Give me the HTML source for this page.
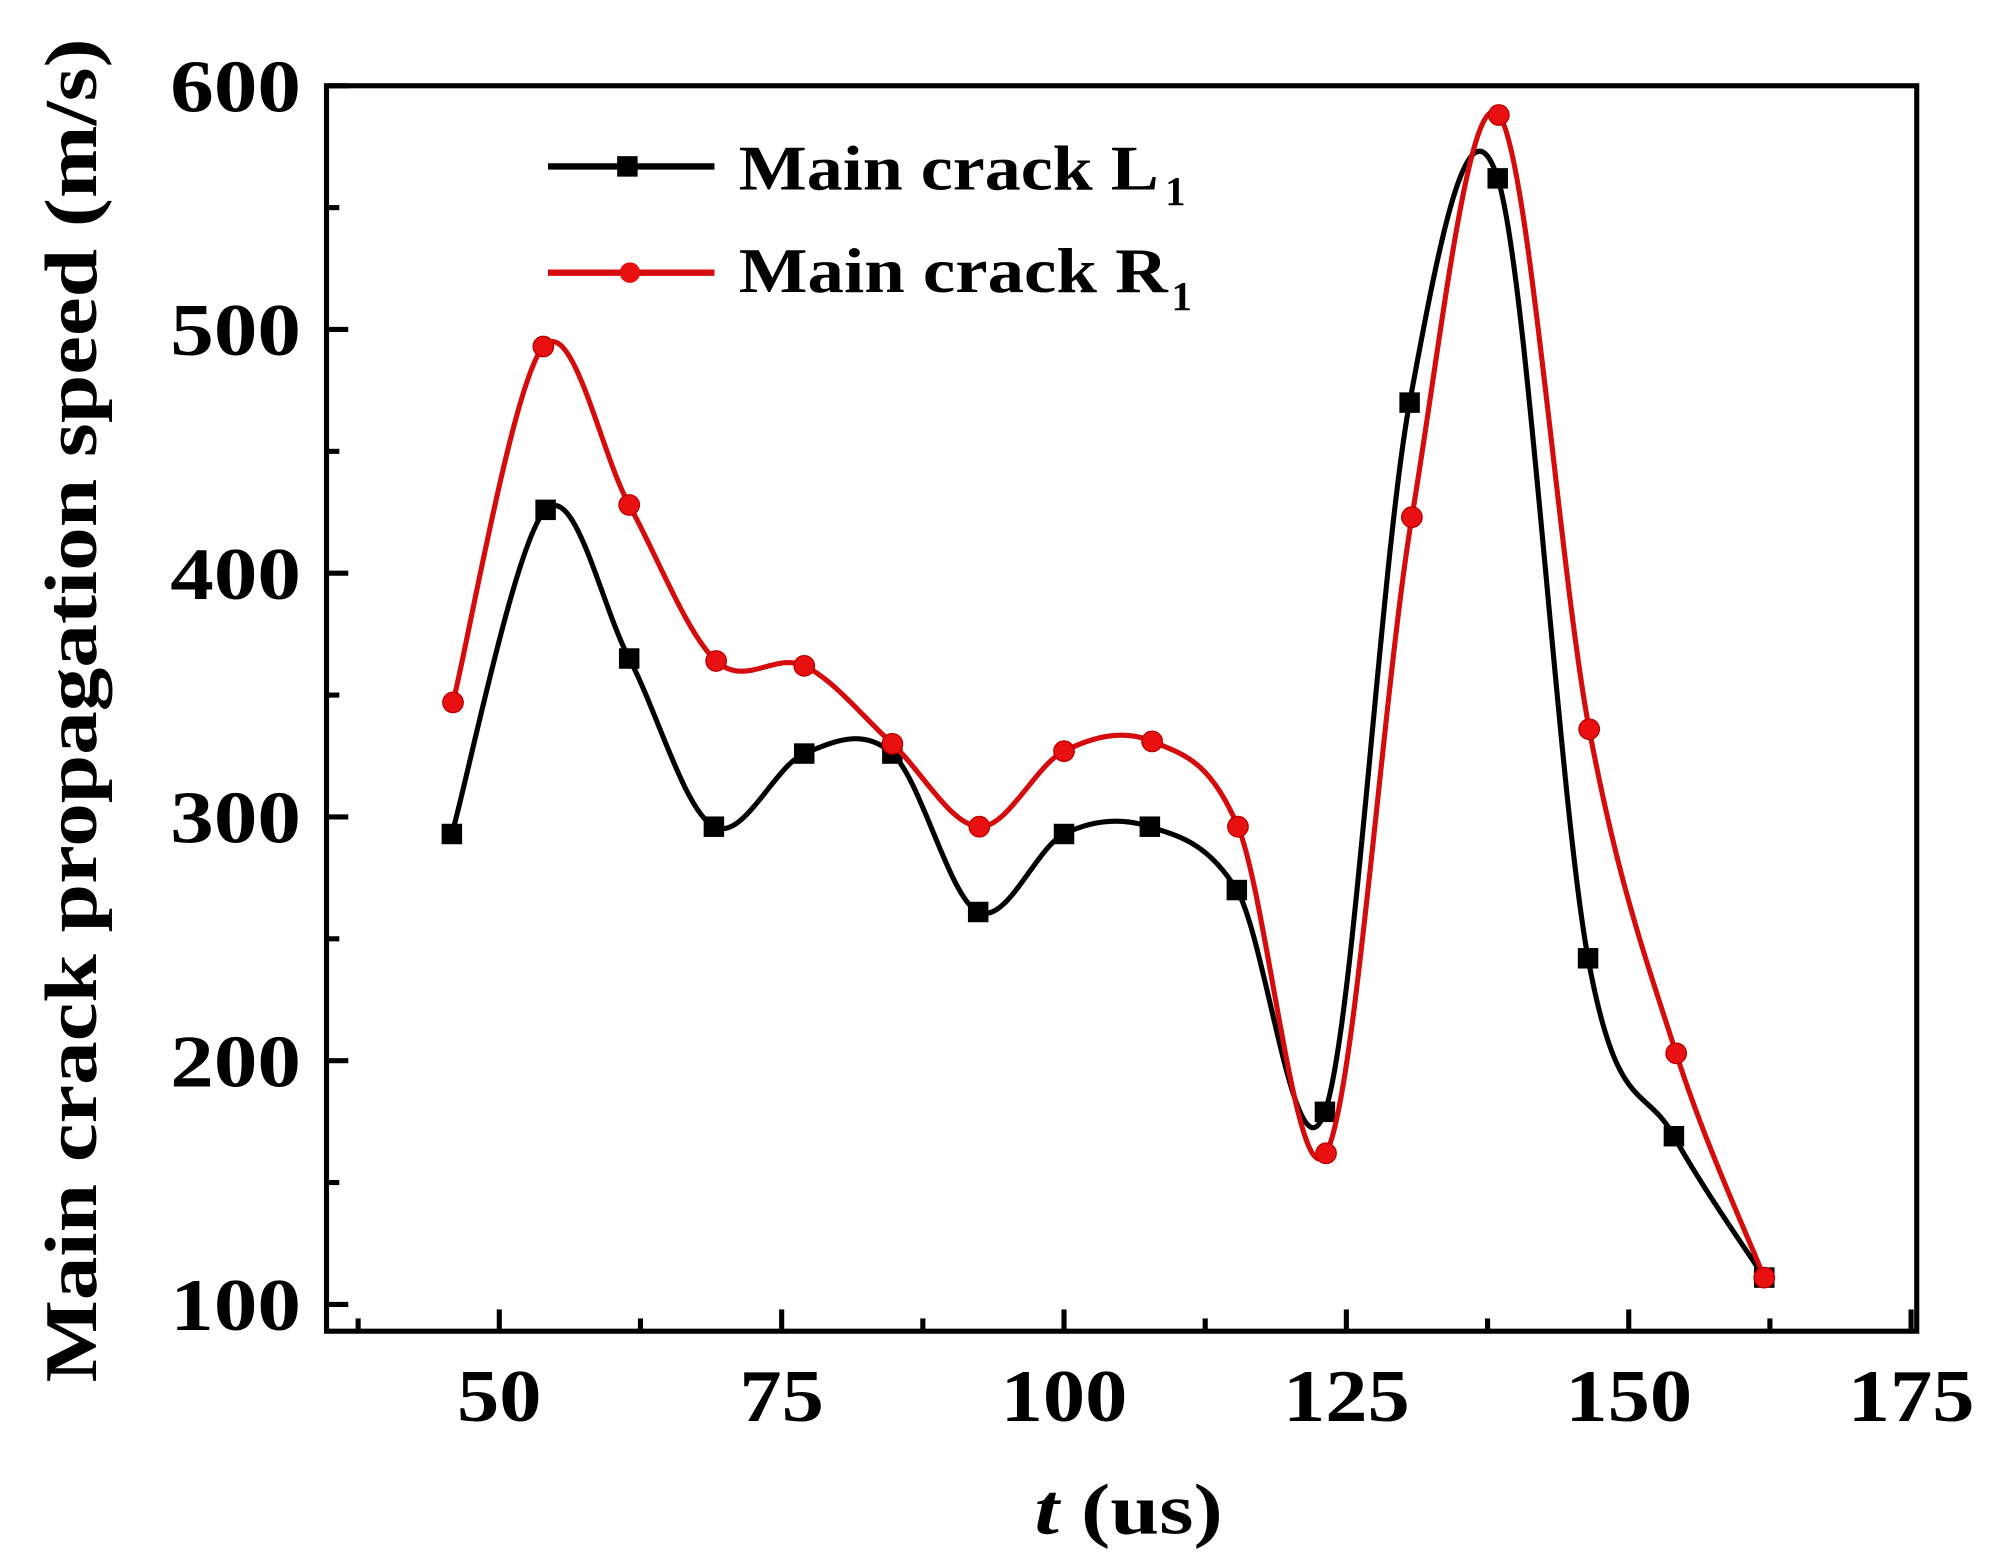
<!DOCTYPE html>
<html><head><meta charset="utf-8"><style>
html,body{margin:0;padding:0;background:#fff;}
svg{display:block;}
text{font-family:"Liberation Serif",serif;font-weight:bold;fill:#000;}
</style></head><body>
<svg id="chart" width="1991" height="1568" viewBox="0 0 1555 1225" preserveAspectRatio="none" xmlns="http://www.w3.org/2000/svg">
<g id="axes"></g>
<g id="series"></g>
<g id="legend">
  <line x1="428" y1="130" x2="558" y2="130" stroke="#000" stroke-width="5"/>
  <rect x="482" y="122" width="16" height="16" fill="#000"/>
  <text x="577" y="148" font-size="50" textLength="328" lengthAdjust="spacingAndGlyphs">Main crack L</text>
  <text x="910" y="160" font-size="32">1</text>
  <line x1="428" y1="213" x2="558" y2="213" stroke="#d40c0c" stroke-width="5"/>
  <circle cx="492" cy="213" r="8" fill="#e81010"/>
  <text x="577" y="228" font-size="50" textLength="335" lengthAdjust="spacingAndGlyphs">Main crack R</text>
  <text x="915" y="242" font-size="32">1</text>
</g>
<text x="808" y="1198" font-size="56" textLength="147" lengthAdjust="spacingAndGlyphs"><tspan font-style="italic">t</tspan> (us)</text>
<text transform="translate(75,1080) rotate(-90)" font-size="58" textLength="1050" lengthAdjust="spacingAndGlyphs">Main crack propagation speed (m/s)</text>
</svg>
<script>
const tL = [45.8, 54.1, 61.5, 69.0, 77.0, 84.8, 92.4, 100.0, 107.6, 115.3, 123.1, 130.6, 138.4, 146.4, 154.0, 162.0];
const vL = [293, 426, 365, 296, 326, 326, 261, 293, 296, 270, 179, 470, 562, 242, 169, 111];
const tR = [45.9, 53.9, 61.5, 69.2, 77.0, 84.8, 92.5, 100.0, 107.8, 115.4, 123.2, 130.8, 138.5, 146.5, 154.2, 162.0];
const vR = [347, 493, 428, 364, 362, 330, 296, 327, 331, 296, 162, 423, 588, 336, 203, 111];
const xTicks = [50, 75, 100, 125, 150, 175];
const yTicks = [100, 200, 300, 400, 500, 600];
const xTickLabels = ["50", "75", "100", "125", "150", "175"];
const yTickLabels = ["100", "200", "300", "400", "500", "600"];

const L = 255, R = 1497, T = 67, B = 1040;
const X0 = 34.7, X1 = 175.5, Y0 = 89, Y1 = 600;
const sx = v => L + (v - X0) / (X1 - X0) * (R - L);
const sy = v => B - (v - Y0) / (Y1 - Y0) * (B - T);
const NS = "http://www.w3.org/2000/svg";
function mk(tag, attrs, parent) {
  const e = document.createElementNS(NS, tag);
  for (const k in attrs) e.setAttribute(k, attrs[k]);
  parent.appendChild(e);
  return e;
}
const axes = document.getElementById('axes');
const frame = mk('rect', {x: L, y: T, width: R - L, height: B - T, fill: 'none', stroke: '#000', 'stroke-width': 4}, axes);


xTicks.forEach((v, i) => {
  const x = sx(v);
  const t = mk('line', {x1: x, y1: B, x2: x, y2: B - 17, stroke: '#000', 'stroke-width': 4}, axes);
  
  
  const m = sx(v - 12.5);
  const mt = mk('line', {x1: m, y1: B, x2: m, y2: B - 10, stroke: '#000', 'stroke-width': 4}, axes);
  
  
  const w = xTickLabels[i].length * 33;
  const lb = mk('text', {x: x - w / 2, y: B + 70, 'font-size': 58, textLength: w, lengthAdjust: 'spacingAndGlyphs'}, axes);
  lb.textContent = xTickLabels[i];
  
  
});
yTicks.forEach((v, i) => {
  const y = sy(v);
  const t = mk('line', {x1: L, y1: y, x2: L + 17, y2: y, stroke: '#000', 'stroke-width': 4}, axes);
  
  
  if (v < 600) {
    const m = sy(v + 50);
    const mt = mk('line', {x1: L, y1: m, x2: L + 10, y2: m, stroke: '#000', 'stroke-width': 4}, axes);
    
    
  }
  const w = yTickLabels[i].length * 34;
  const lb = mk('text', {x: L - 20 - w, y: y + 20, 'font-size': 58, textLength: w, lengthAdjust: 'spacingAndGlyphs'}, axes);
  lb.textContent = yTickLabels[i];
  
  
});
function spline(ts, vs) {
  const p = ts.map((t, i) => [sx(t), sy(vs[i])]);
  let d = `M${p[0][0]},${p[0][1]}`;
  for (let i = 0; i < p.length - 1; i++) {
    const p0 = p[Math.max(0, i - 1)], p1 = p[i], p2 = p[i + 1], p3 = p[Math.min(p.length - 1, i + 2)];
    const c1 = [p1[0] + (p2[0] - p0[0]) / 6, p1[1] + (p2[1] - p0[1]) / 6];
    const c2 = [p2[0] - (p3[0] - p1[0]) / 6, p2[1] - (p3[1] - p1[1]) / 6];
    d += ` C${c1[0]},${c1[1]} ${c2[0]},${c2[1]} ${p2[0]},${p2[1]}`;
  }
  return d;
}
const series = document.getElementById('series');
const lineL = mk('path', {d: spline(tL, vL), fill: 'none', stroke: '#000', 'stroke-width': 4}, series);


tL.forEach((t, i) => {
  const r = mk('rect', {x: sx(t) - 8, y: sy(vL[i]) - 8, width: 16, height: 16, fill: '#000'}, series);
  
  
});
const lineR = mk('path', {d: spline(tR, vR), fill: 'none', stroke: '#d40c0c', 'stroke-width': 4}, series);


tR.forEach((t, i) => {
  const c = mk('circle', {cx: sx(t), cy: sy(vR[i]), r: 8, fill: '#e81010', stroke: '#b00', 'stroke-width': 1}, series);
  
  
});
</script>
</body></html>
